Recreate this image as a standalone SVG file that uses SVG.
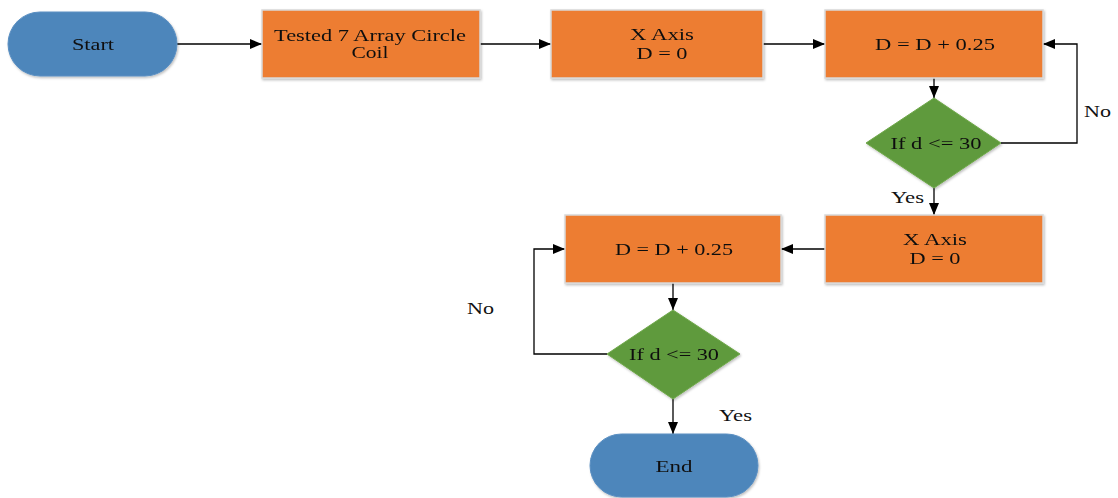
<svg xmlns="http://www.w3.org/2000/svg" width="1118" height="498" viewBox="0 0 1118 498">
<style>
.term{fill:#4E86BB;stroke:#5A8FC2;stroke-width:1}
.proc{fill:#ED7D31;stroke:#D9D9D9;stroke-width:1.5}
.dec{fill:#5F9A3C;stroke:#6FA84A;stroke-width:1}
.t{font-family:"Liberation Serif","Times New Roman",serif;font-size:16px;fill:#111;text-anchor:middle}
.lbl{font-family:"Liberation Serif","Times New Roman",serif;font-size:16px;fill:#111}
.c{fill:none;stroke:#000;stroke-width:1.3}
</style>
<defs>
<marker id="ah" markerWidth="12" markerHeight="10" refX="12" refY="5" orient="auto" markerUnits="userSpaceOnUse">
<path d="M0,0 L12,5 L0,10 Z" fill="#000"/>
</marker>
<filter id="sh" x="-10%" y="-10%" width="120%" height="130%">
<feDropShadow dx="1" dy="1.5" stdDeviation="1" flood-color="#000" flood-opacity="0.25"/>
</filter>
</defs>
<rect width="1118" height="498" fill="#fff"/>
<g id="connectors">
<path class="c" d="M177,44 H262" marker-end="url(#ah)"/>
<path class="c" d="M480,44 H551" marker-end="url(#ah)"/>
<path class="c" d="M763,44 H825" marker-end="url(#ah)"/>
<path class="c" d="M934,78 V98" marker-end="url(#ah)"/>
<path class="c" d="M1001,143 H1077 V44 H1043" marker-end="url(#ah)"/>
<path class="c" d="M934,188 V215" marker-end="url(#ah)"/>
<path class="c" d="M825,249 H781" marker-end="url(#ah)"/>
<path class="c" d="M673,283 V310" marker-end="url(#ah)"/>
<path class="c" d="M607,354 H534 V249 H565" marker-end="url(#ah)"/>
<path class="c" d="M673,399 V434" marker-end="url(#ah)"/>
<text class="lbl" x="1084" y="117" textLength="27" lengthAdjust="spacingAndGlyphs">No</text>
<text class="lbl" x="891" y="203" textLength="33" lengthAdjust="spacingAndGlyphs">Yes</text>
<text class="lbl" x="467" y="314" textLength="27" lengthAdjust="spacingAndGlyphs">No</text>
<text class="lbl" x="719" y="421" textLength="33" lengthAdjust="spacingAndGlyphs">Yes</text>
</g>
<g id="start" filter="url(#sh)">
<rect class="term" x="8" y="12" width="169" height="64" rx="32" ry="32"/>
<text class="t" x="93" y="50" textLength="42" lengthAdjust="spacingAndGlyphs">Start</text>
</g>
<g id="tested" filter="url(#sh)">
<rect class="proc" x="262" y="10" width="218" height="68"/>
<text class="t" x="370" y="41" textLength="192" lengthAdjust="spacingAndGlyphs">Tested 7 Array Circle</text>
<text class="t" x="370" y="58" textLength="37" lengthAdjust="spacingAndGlyphs">Coil</text>
</g>
<g id="xaxis1" filter="url(#sh)">
<rect class="proc" x="551" y="10" width="212" height="68"/>
<text class="t" x="662" y="40" textLength="64" lengthAdjust="spacingAndGlyphs">X Axis</text>
<text class="t" x="662" y="59" textLength="51" lengthAdjust="spacingAndGlyphs">D = 0</text>
</g>
<g id="inc1" filter="url(#sh)">
<rect class="proc" x="825" y="10" width="218" height="68"/>
<text class="t" x="935" y="50" textLength="120" lengthAdjust="spacingAndGlyphs">D = D + 0.25</text>
</g>
<g id="dec1" filter="url(#sh)">
<polygon class="dec" points="934,98 1001,143 934,188 866,143"/>
<text class="t" x="936" y="149" textLength="91" lengthAdjust="spacingAndGlyphs">If d &lt;= 30</text>
</g>
<g id="xaxis2" filter="url(#sh)">
<rect class="proc" x="825" y="215" width="218" height="68"/>
<text class="t" x="935" y="245" textLength="64" lengthAdjust="spacingAndGlyphs">X Axis</text>
<text class="t" x="935" y="264" textLength="51" lengthAdjust="spacingAndGlyphs">D = 0</text>
</g>
<g id="inc2" filter="url(#sh)">
<rect class="proc" x="565" y="215" width="216" height="68"/>
<text class="t" x="674" y="255" textLength="118" lengthAdjust="spacingAndGlyphs">D = D + 0.25</text>
</g>
<g id="dec2" filter="url(#sh)">
<polygon class="dec" points="673,310 740,354 673,399 607,354"/>
<text class="t" x="674" y="360" textLength="90" lengthAdjust="spacingAndGlyphs">If d &lt;= 30</text>
</g>
<g id="end" filter="url(#sh)">
<rect class="term" x="590" y="434" width="168" height="63" rx="31.5" ry="31.5"/>
<text class="t" x="674" y="472" textLength="37" lengthAdjust="spacingAndGlyphs">End</text>
</g>
</svg>
